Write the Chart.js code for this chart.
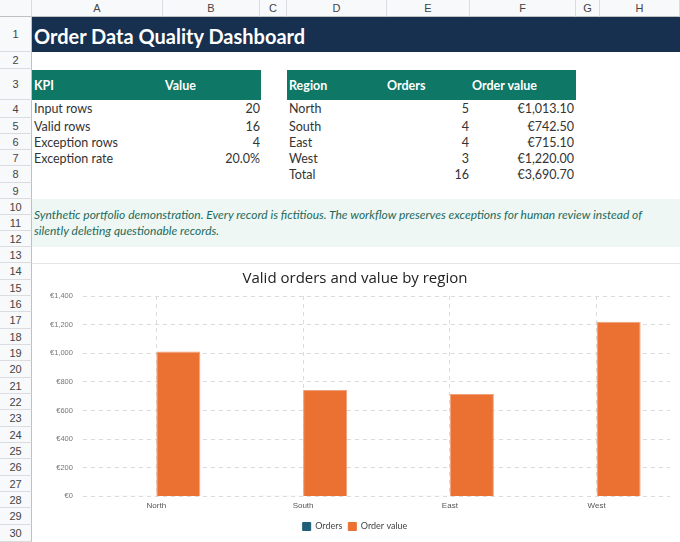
<!DOCTYPE html>
<html lang="en">
<head>
<meta charset="UTF-8">
<title>Order Data Quality Dashboard</title>
<script src="https://cdn.jsdelivr.net/npm/chart.js"></script>
<style>
    body { margin: 0; width: 680px; height: 542px; overflow: hidden; font-family: Lato, sans-serif; background: #fff; position: relative; }
    .a { position: absolute; box-sizing: border-box; }
    .colh { top: 0; height: 17px; background: #f8f9fa; border-right: 1px solid #dadce0; border-bottom: 1px solid #c0c0c0; font: 11px Arial, sans-serif; color: #444; text-align: center; line-height: 17px; }
    .rowh { left: 0; width: 32px; background: #f8f9fa; border-bottom: 1px solid #dadce0; border-right: 1px solid #c0c0c0; font: 11px Arial, sans-serif; color: #444; text-align: center; }
    .cell { font-size: 12.5px; color: #333; white-space: nowrap; }
    .r { text-align: right; }
    .band { background: #0f7766; }
    .hdr { color: #fff; font-weight: bold; font-size: 12.5px; }
    #chartBox { left: 32px; top: 263px; width: 648px; height: 279px; background: #fff; border-top: 1px solid #e6e6e6; }
</style>
</head>
<body>
<div id="sheet"></div>
<div class="a" style="left:32px;top:17px;width:648px;height:35px;background:#17304f;"></div>
<div class="a cell" style="left:34px;top:17px;height:35px;line-height:38px;color:#fff;font-weight:bold;font-size:20px;">Order Data Quality Dashboard</div>

<div class="a band" style="left:32px;top:70px;width:229px;height:30px;"></div>
<div class="a hdr" style="left:34px;top:70px;line-height:32px;">KPI</div>
<div class="a hdr" style="left:165px;top:70px;line-height:32px;">Value</div>
<div class="a band" style="left:287px;top:70px;width:289px;height:30px;"></div>
<div class="a hdr" style="left:289px;top:70px;line-height:32px;">Region</div>
<div class="a hdr" style="left:387px;top:70px;line-height:32px;">Orders</div>
<div class="a hdr" style="left:472px;top:70px;line-height:32px;">Order value</div>

<div class="a" style="left:32px;top:199px;width:648px;height:48px;background:#eef7f4;"></div>
<div class="a cell" style="left:34px;top:207px;width:644px;white-space:normal;font-style:italic;color:#1e6a5c;line-height:16px;font-size:12px;">Synthetic portfolio demonstration. Every record is fictitious. The workflow preserves exceptions for human review instead of silently deleting questionable records.</div>

<div class="a" id="chartBox"><canvas id="grafRegion"></canvas></div>

<script>
    // column header bands and row heights of the sheet
    const cols = [['', 0, 32], ['A', 32, 163], ['B', 163, 260], ['C', 260, 287], ['D', 287, 387], ['E', 387, 470], ['F', 470, 576], ['G', 576, 600], ['H', 600, 680]];
    const rowTops = [17, 52, 69, 100, 118, 134, 150, 166, 183, 199, 215, 231, 247, 263, 280, 296, 312, 329, 345, 361, 378, 394, 410, 427, 443, 459, 476, 492, 508, 525, 542];
    const sheet = document.getElementById('sheet');
    let html = '';
    cols.forEach(c => {
        html += `<div class="a colh" style="left:${c[1]}px;width:${c[2] - c[1]}px;">${c[0]}</div>`;
    });
    for (let i = 0; i < rowTops.length - 1; i++) {
        const h = rowTops[i + 1] - rowTops[i];
        html += `<div class="a rowh" style="top:${rowTops[i]}px;height:${h}px;line-height:${h}px;">${i + 1}</div>`;
    }

    const kpis = [['Input rows', '20'], ['Valid rows', '16'], ['Exception rows', '4'], ['Exception rate', '20.0%']];
    kpis.forEach((k, i) => {
        const t = rowTops[i + 3];
        html += `<div class="a cell" style="left:34px;top:${t}px;line-height:17px;">${k[0]}</div>`;
        html += `<div class="a cell r" style="left:163px;width:97px;top:${t}px;line-height:17px;">${k[1]}</div>`;
    });

    const regiones = [
        { region: 'North', orders: 5, value: 1013.10 },
        { region: 'South', orders: 4, value: 742.50 },
        { region: 'East', orders: 4, value: 715.10 },
        { region: 'West', orders: 3, value: 1220.00 }
    ];
    const eur = v => '€' + v.toLocaleString('en-US', { minimumFractionDigits: 2, maximumFractionDigits: 2 });
    const filas = regiones.concat([{ region: 'Total', orders: 16, value: 3690.70 }]);
    filas.forEach((r, i) => {
        const t = rowTops[i + 3];
        html += `<div class="a cell" style="left:289px;top:${t}px;line-height:17px;">${r.region}</div>`;
        html += `<div class="a cell r" style="left:387px;width:82px;top:${t}px;line-height:17px;">${r.orders}</div>`;
        html += `<div class="a cell r" style="left:470px;width:104px;top:${t}px;line-height:17px;">${eur(r.value)}</div>`;
    });
    sheet.innerHTML = html;

    new Chart(grafRegion, {
        type: 'bar',
        data: {
            labels: regiones.map(r => r.region),
            datasets: [{
                label: 'Orders',
                data: regiones.map(r => r.orders),
                backgroundColor: '#8fbcc8',
                borderColor: '#8fbcc8',
                borderWidth: 1,
                categoryPercentage: 0.6,
                barPercentage: 1
            }, {
                label: 'Order value',
                data: regiones.map(r => r.value),
                backgroundColor: '#ea7132',
                borderColor: '#f0a07a',
                borderWidth: 1,
                categoryPercentage: 0.6,
                barPercentage: 1
            }]
        },
        options: {
            responsive: true,
            maintainAspectRatio: false,
            animation: false,
            layout: { padding: { left: 8, right: 10, top: 2, bottom: 1 } },
            plugins: {
                title: { display: true, text: 'Valid orders and value by region', color: '#222', font: { family: 'Open Sans', size: 15, weight: 'normal' }, padding: { top: 4, bottom: 8 } },
                legend: { position: 'bottom', labels: { boxWidth: 8, boxHeight: 8, padding: 6, color: '#444', font: { family: 'Lato', size: 9 }, generateLabels: chart => [
                    { text: 'Orders', fillStyle: '#1f5f7a', strokeStyle: '#1f5f7a', datasetIndex: 0, fontColor: '#444' },
                    { text: 'Order value', fillStyle: '#ea7132', strokeStyle: '#ea7132', datasetIndex: 1, fontColor: '#444' }
                ] } }
            },
            scales: {
                x: { grid: { offset: false, color: '#dcdcdc', tickLength: 0 }, border: { display: false, dash: [4, 4] }, ticks: { color: '#555', font: { size: 8 }, padding: 5 } },
                y: { min: 0, max: 1400, grid: { color: '#dcdcdc', tickLength: 0 }, border: { display: false, dash: [4, 4] },
                     ticks: { stepSize: 200, color: '#777', font: { size: 7.5 }, padding: 10, callback: v => '€' + v.toLocaleString('en-US') } }
            }
        }
    });
</script>
</body>
</html>
